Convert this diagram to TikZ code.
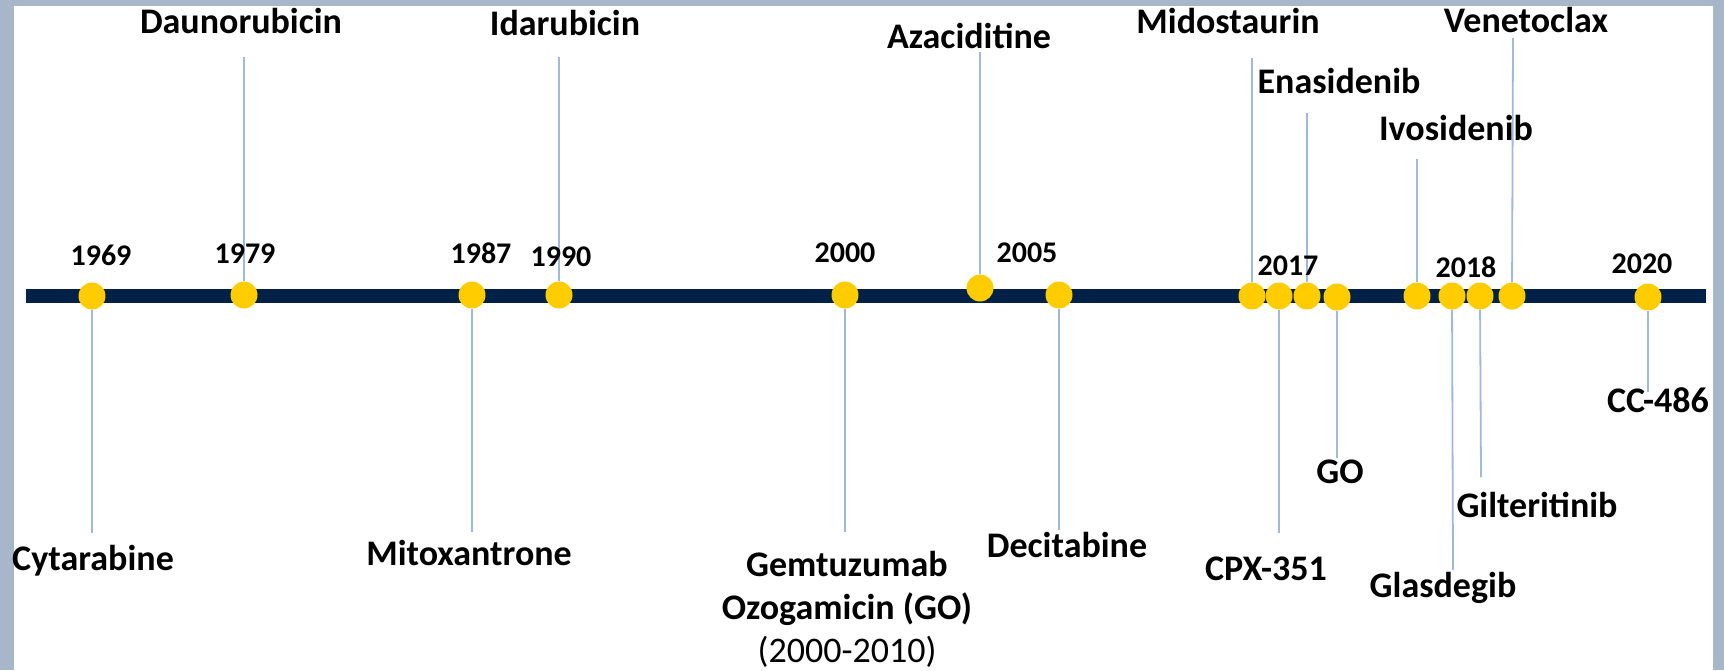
\documentclass[tikz,border=0pt]{standalone}
\usepackage{fontspec}
\setmainfont{Carlito}
\definecolor{framecol}{RGB}{168,182,202}
\definecolor{barcol}{RGB}{0,33,71}
\definecolor{dotcol}{RGB}{255,204,0}
\definecolor{linecol}{RGB}{160,184,220}
\tikzset{
  dotnode/.style={circle, fill=dotcol, minimum size=27pt, inner sep=0pt},
  lbl/.style={font=\fontsize{36}{43}\selectfont\bfseries, anchor=base, inner sep=0pt, align=center},
  yr/.style={font=\fontsize{30}{36}\selectfont\bfseries, anchor=base, inner sep=0pt},
  conn/.style={draw=linecol, line width=1.8pt},
}
\begin{document}
\begin{tikzpicture}[x=1pt,y=-1pt]
\useasboundingbox (0,0) rectangle (1724,670);
\fill[framecol] (0,0) rectangle (1724,670);
\fill[white] (14,6) rectangle (1713,670);
% bar
\fill[barcol] (26,289) rectangle (1706,303);
% dots
\node[dotnode] (d1969) at (92,296) {};
\node[dotnode] (d1979) at (244,295) {};
\node[dotnode] (d1987) at (472,295) {};
\node[dotnode] (d1990) at (559,295) {};
\node[dotnode] (d2000) at (845,295) {};
\node[dotnode] (dAza) at (980,288) {};
\node[dotnode] (d2005) at (1059,295) {};
\node[dotnode] (dMido) at (1252,296) {};
\node[dotnode] (dCPX) at (1279,296) {};
\node[dotnode] (dEna) at (1307,296) {};
\node[dotnode] (dGO) at (1337,297) {};
\node[dotnode] (dIvo) at (1417,296) {};
\node[dotnode] (dGlas) at (1452,296) {};
\node[dotnode] (dGil) at (1480,296) {};
\node[dotnode] (dVen) at (1512,296) {};
\node[dotnode] (dCC) at (1648,297) {};
% line ends
\coordinate (eCyt) at (92,533);
\coordinate (eDau) at (244,57);
\coordinate (eMit) at (472,532);
\coordinate (eIda) at (559,57);
\coordinate (eGem) at (845,532);
\coordinate (eAza) at (980,52);
\coordinate (eDec) at (1059,530);
\coordinate (eMido) at (1252,58);
\coordinate (eCPX) at (1279,533);
\coordinate (eEna) at (1307,113);
\coordinate (eGO) at (1337,458);
\coordinate (eIvo) at (1417,159);
\coordinate (eGlas) at (1453,570);
\coordinate (eGil) at (1481,477);
\coordinate (eVen) at (1513,38);
\coordinate (eCC) at (1648,392);
% connectors
\draw[conn] (d1969) -- (eCyt);
\draw[conn] (d1979) -- (eDau);
\draw[conn] (d1987) -- (eMit);
\draw[conn] (d1990) -- (eIda);
\draw[conn] (d2000) -- (eGem);
\draw[conn] (dAza) -- (eAza);
\draw[conn] (d2005) -- (eDec);
\draw[conn] (dMido) -- (eMido);
\draw[conn] (dCPX) -- (eCPX);
\draw[conn] (dEna) -- (eEna);
\draw[conn] (dGO) -- (eGO);
\draw[conn] (dIvo) -- (eIvo);
\draw[conn] (dGlas) -- (eGlas);
\draw[conn] (dGil) -- (eGil);
\draw[conn] (dVen) -- (eVen);
\draw[conn] (dCC) -- (eCC);
% years
\node[yr] (y1969) at (101,265) {1969};
\node[yr] (y1979) at (245,263) {1979};
\node[yr] (y1987) at (481,263) {1987};
\node[yr] (y1990) at (561,266) {1990};
\node[yr] (y2000) at (845,262) {2000};
\node[yr] (y2005) at (1027,262) {2005};
\node[yr] (y2017) at (1288,275) {2017};
\node[yr] (y2018) at (1466,277) {2018};
\node[yr] (y2020) at (1642,273) {2020};
% drug labels above
\node[lbl] (lDau) at (241,33) {Daunorubicin};
\node[lbl] (lIda) at (565,35) {Idarubicin};
\node[lbl] (lAza) at (969,48) {Azaciditine};
\node[lbl] (lMido) at (1228,33) {Midostaurin};
\node[lbl] (lVen) at (1526,32) {Venetoclax};
\node[lbl] (lEna) at (1339,93) {Enasidenib};
\node[lbl] (lIvo) at (1456,140) {Ivosidenib};
% drug labels below
\node[lbl] (lCyt) at (93,570) {Cytarabine};
\node[lbl] (lMit) at (469,565) {Mitoxantrone};
\node[lbl] (lGem) at (847,662) {Gemtuzumab\\Ozogamicin (GO)\\{\mdseries (2000-2010)}};
\node[lbl] (lDec) at (1067,557) {Decitabine};
\node[lbl] (lCPX) at (1266,580) {CPX-351};
\node[lbl] (lGO) at (1340,483) {GO};
\node[lbl] (lGlas) at (1443,597) {Glasdegib};
\node[lbl] (lGil) at (1537,517) {Gilteritinib};
\node[lbl] (lCC) at (1658,412) {CC-486};
\end{tikzpicture}
\end{document}
